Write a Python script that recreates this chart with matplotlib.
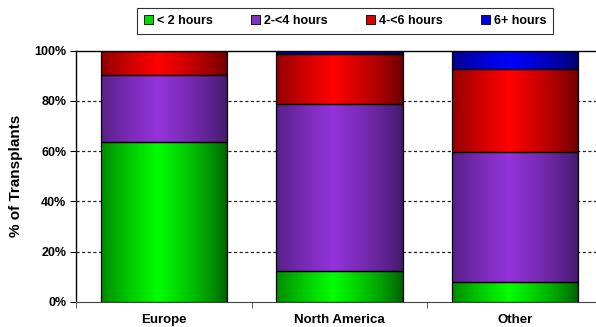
import numpy as np
import matplotlib
matplotlib.use('Agg')
import matplotlib.pyplot as plt
from matplotlib.patches import Patch
from matplotlib.ticker import FixedLocator, PercentFormatter

plt.rcParams['font.family'] = ['Liberation Sans', 'DejaVu Sans']
plt.rcParams['font.weight'] = 'bold'

# transplant share by ischemic time, per region (percent)
regions = ['Europe', 'North America', 'Other']
series_names = ['< 2 hours', '2-<4 hours', '4-<6 hours', '6+ hours']
lt2 = [63.5, 12.1, 7.7]
h2to4 = [26.8, 66.6, 51.8]
h4to6 = [9.7, 19.9, 33.1]
h6plus = [0.0, 1.4, 7.4]
series_vals = [lt2, h2to4, h4to6, h6plus]

# (dark edge colour, bright centre colour) for each series
shades = [((0.0, 0.36, 0.0), (0.0, 1.0, 0.0)),
          ((0.25, 0.10, 0.40), (0.58, 0.20, 0.86)),
          ((0.40, 0.0, 0.0), (1.0, 0.0, 0.0)),
          ((0.0, 0.0, 0.40), (0.0, 0.0, 1.0))]
legend_cols = [(0.0, 0.85, 0.0), (0.5, 0.2, 0.75), (0.85, 0.0, 0.0), (0.0, 0.0, 0.85)]


def gradient(dark, bright, n=200, centre=0.45):
    u = np.linspace(0, 1, n)
    w = 1 - np.abs(u - centre) / max(centre, 1 - centre)
    w = w ** 0.75
    dark = np.array(dark)
    bright = np.array(bright)
    img = dark[None, :] + (bright - dark)[None, :] * w[:, None]
    return img[None, :, :]


fig = plt.figure(figsize=(5.96, 3.27), dpi=100)
ax = fig.add_axes([76 / 596, 25.3 / 327, 527 / 596, 251 / 327])

width = 0.72
x = np.arange(len(regions))
bottoms = np.zeros(len(regions))
for vals, (dark, bright) in zip(series_vals, shades):
    img = gradient(dark, bright)
    for i, v in enumerate(vals):
        if v <= 0:
            continue
        ax.imshow(img, extent=(x[i] - width / 2, x[i] + width / 2, bottoms[i], bottoms[i] + v),
                  aspect='auto', interpolation='bilinear', zorder=2)
    ax.bar(x, vals, width, bottom=bottoms, fill=False, edgecolor='black', linewidth=0.9, zorder=3)
    bottoms += np.array(vals)

ax.set_xlim(-0.5, 2.5)
ax.set_ylim(0, 100)

ax.yaxis.set_major_locator(FixedLocator([0, 20, 40, 60, 80, 100]))
ax.yaxis.set_major_formatter(PercentFormatter(decimals=0))
for yv in [20, 40, 60, 80]:
    ax.axhline(yv, color='#222222', linewidth=0.9, linestyle=(0, (2.5, 2)), zorder=1)

ax.set_xticks(x)
ax.set_xticklabels(regions, fontsize=9.5, fontweight='bold')
ax.tick_params(axis='x', length=0, pad=9)
ax.set_xticks([-0.5, 0.5, 1.5, 2.5], minor=True)
ax.tick_params(axis='x', which='minor', length=4, color='#444444', direction='out')
ax.tick_params(axis='y', length=4, direction='out', labelsize=9, pad=3)
for lab in ax.get_yticklabels():
    lab.set_fontweight('bold')

ax.spines['right'].set_visible(False)
ax.spines['top'].set_linewidth(1.0)
ax.spines['left'].set_linewidth(1.0)
ax.spines['bottom'].set_color('#444444')

ax.set_ylabel('% of Transplants', fontsize=11, fontweight='bold', labelpad=8)

handles = [Patch(facecolor=c, edgecolor='black', linewidth=0.6) for c in legend_cols]
leg = fig.legend(handles, series_names, loc='upper left', bbox_to_anchor=(137 / 596, 1 - 8 / 327),
                 ncol=4, frameon=True, fancybox=False, edgecolor='black', fontsize=9,
                 handlelength=0.75, handleheight=0.75, handletextpad=0.3, columnspacing=3.05,
                 borderpad=0.55, borderaxespad=0)
leg.get_frame().set_linewidth(0.8)
for t in leg.get_texts():
    t.set_fontweight('bold')

fig.savefig('out.png', dpi=100)
